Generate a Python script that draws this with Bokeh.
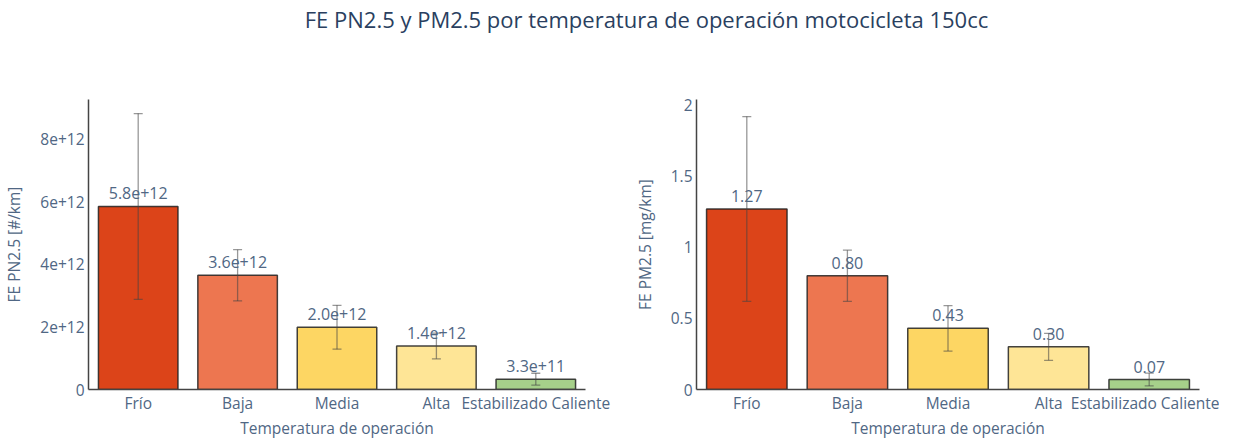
from bokeh.plotting import figure
from bokeh.models import ColumnDataSource, FixedTicker, Div
from bokeh.layouts import row, column
from bokeh.core.properties import value
from bokeh.embed import file_html
from bokeh.resources import INLINE

categories = ["Frío", "Baja", "Media", "Alta", "Estabilizado Caliente"]
colors = ["#DC4419", "#ED7650", "#FDD663", "#FEE596", "#A6D08A"]

pn_values = [5.85e12, 3.65e12, 1.99e12, 1.39e12, 0.33e12]
pn_errors = [2.97e12, 0.82e12, 0.70e12, 0.41e12, 0.19e12]
pn_labels = ["5.8e+12", "3.6e+12", "2.0e+12", "1.4e+12", "3.3e+11"]

pm_values = [1.27, 0.80, 0.43, 0.30, 0.07]
pm_errors = [0.65, 0.18, 0.16, 0.095, 0.045]
pm_labels = ["1.27", "0.80", "0.43", "0.30", "0.07"]

pn_ticks = [0, 2e12, 4e12, 6e12, 8e12]
pn_tick_labels = ["0", "2e+12", "4e+12", "6e+12", "8e+12"]
pm_ticks = [0, 0.5, 1, 1.5, 2]
pm_tick_labels = ["0", "0.5", "1", "1.5", "2"]

FONT = "Open Sans"
TXT = "#506784"
FS = "15.5px"


def make_panel(values, errors, labels, ymax, ticks, tick_labels, ylabel, width, bl, br):
    src = ColumnDataSource(dict(
        cat=categories, val=values, color=colors, label=labels,
        upper=[v + e for v, e in zip(values, errors)],
        lower=[v - e for v, e in zip(values, errors)],
    ))
    p = figure(x_range=categories, y_range=(0, ymax), width=width, height=399,
               output_backend="svg", toolbar_location=None,
               min_border_left=bl, min_border_right=br,
               min_border_top=57, min_border_bottom=0)
    p.vbar(x="cat", top="val", width=0.8, source=src, fill_color="color",
           line_color="#222222", line_width=1.5, line_alpha=0.85)
    p.segment(x0="cat", x1="cat", y0="lower", y1="upper", source=src,
              line_color="#444444", line_alpha=0.55, line_width=1.3)
    p.scatter(x="cat", y="upper", source=src, marker="dash", size=9,
              line_color="#444444", line_alpha=0.55, line_width=1.3)
    p.scatter(x="cat", y="lower", source=src, marker="dash", size=9,
              line_color="#444444", line_alpha=0.55, line_width=1.3)
    p.text(x="cat", y="val", text="label", source=src, text_align="center",
           text_baseline="bottom", y_offset=-7, text_color=TXT,
           text_font=value(FONT), text_font_size="16px")
    p.xgrid.visible = False
    p.ygrid.visible = False
    p.outline_line_color = None
    p.yaxis.ticker = FixedTicker(ticks=ticks)
    p.yaxis.major_label_overrides = {t: l for t, l in zip(ticks, tick_labels)}
    for ax in (p.xaxis[0], p.yaxis[0]):
        ax.major_tick_line_color = None
        ax.minor_tick_line_color = None
        ax.major_tick_out = 0
        ax.major_tick_in = 0
        ax.minor_tick_out = 0
        ax.minor_tick_in = 0
        ax.major_label_text_font = FONT
        ax.major_label_text_font_size = FS
        ax.major_label_text_color = TXT
        ax.axis_label_text_font = FONT
        ax.axis_label_text_font_size = FS
        ax.axis_label_text_color = TXT
        ax.axis_label_text_font_style = "normal"
        ax.axis_line_color = "#444444"
        ax.axis_line_width = 1.5
    p.xaxis.axis_label = "Temperatura de operación"
    p.yaxis.axis_label = ylabel
    p.yaxis.major_label_standoff = 4
    p.xaxis.major_label_standoff = 2
    p.xaxis.axis_label_standoff = 0
    p.yaxis.axis_label_standoff = 12
    p.x_range.range_padding = 0
    return p


p1 = make_panel(pn_values, pn_errors, pn_labels, 9.27e12, pn_ticks, pn_tick_labels,
                "FE PN2.5 [#/km]", 612, 81, 27)
p2 = make_panel(pm_values, pm_errors, pm_labels, 2.04, pm_ticks, pm_tick_labels,
                "FE PM2.5 [mg/km]", 607, 84, 20)

title = Div(text='<div style="display:block;width:1219px;box-sizing:border-box;'
                 'padding-left:64px;text-align:center;'
                 'font-family:\'Open Sans\';font-size:22px;color:#2a3f5f;'
                 'line-height:28px;">FE PN2.5 y PM2.5 por temperatura de operación motocicleta 150cc</div>',
            width=1219, height=32)

layout = column(title, row(p1, p2))
open("out.html", "w").write(file_html(layout, INLINE))
